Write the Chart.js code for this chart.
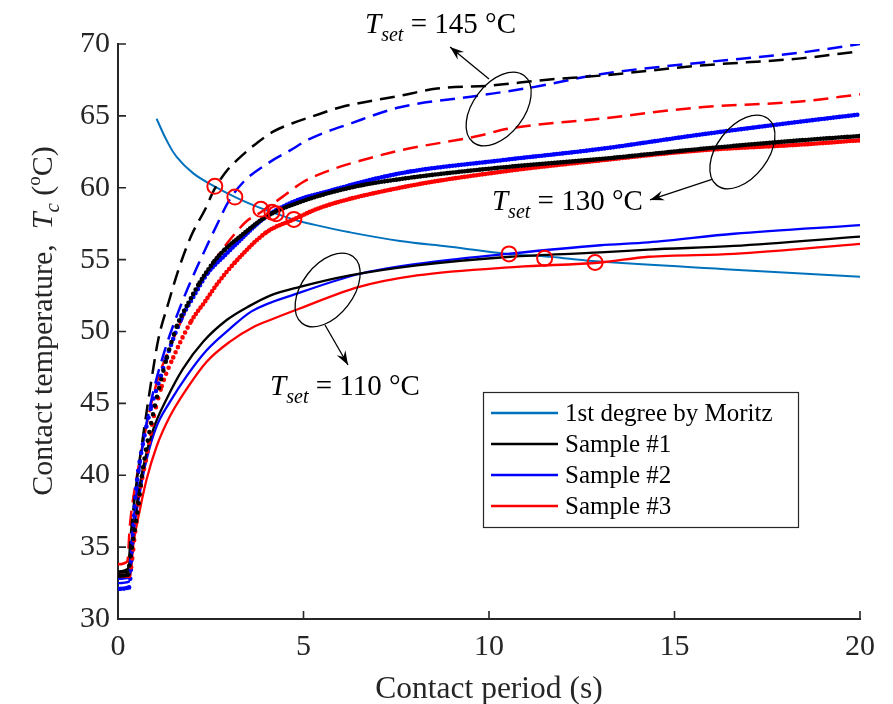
<!DOCTYPE html>
<html><head><meta charset="utf-8">
<script src="https://cdn.jsdelivr.net/npm/chart.js@4.4.1/dist/chart.umd.min.js"></script>
<style>html,body{margin:0;padding:0;background:#fff;}</style>
</head><body>
<canvas id="c" width="893" height="704"></canvas>
<script>
// ---- data (x: contact period s, y: contact temperature °C) ----
const xTickValues = [0, 5, 10, 15, 20];
const yTickValues = [30, 35, 40, 45, 50, 55, 60, 65, 70];

const legendLabels = ['1st degree by Moritz', 'Sample #1', 'Sample #2', 'Sample #3'];

// Tset = 145 °C (dashed)
const t145_s1 = [[0,33.3],[0.27,33.5],[0.35,36.0],[0.5,39.5],[0.68,42.8],[0.9,46.6],[1.09,49.5],[1.36,52.0],[1.63,54.3],[1.98,56.7],[2.35,58.5],[2.6,59.9],[2.97,61.3],[3.2,61.9],[3.64,62.9],[4.18,63.9],[4.82,64.6],[5.17,64.9],[6.0,65.6],[7.6,66.4],[8.6,66.9],[10,67.1],[11.5,67.5],[13,67.8],[15.7,68.5],[18.4,69.0],[20,69.5]];
const t145_s2 = [[0,32.8],[0.3,32.9],[0.36,35.0],[0.5,38.8],[0.68,42.3],[0.95,45.8],[1.25,48.6],[1.63,51.4],[1.98,53.6],[2.35,55.7],[2.7,57.6],[2.97,59.0],[3.38,60.4],[4.1,61.8],[4.64,62.6],[5.17,63.4],[6.3,64.5],[7.6,65.6],[9.7,66.4],[11.2,67.0],[13,67.9],[15.7,68.7],[18.4,69.4],[20,70.0]];
const t145_s3 = [[0,33.8],[0.25,34.0],[0.32,36.5],[0.5,39.8],[0.73,43.0],[1.05,46.5],[1.35,48.6],[1.63,50.3],[1.98,52.3],[2.35,53.9],[2.7,55.3],[3.15,56.8],[3.48,57.7],[3.85,58.3],[4.45,59.4],[4.99,60.4],[5.8,61.3],[6.7,62.0],[7.6,62.6],[9.7,63.6],[10.5,64.1],[13,64.8],[15.7,65.6],[18.4,66.0],[20,66.5]];

// Tset = 130 °C (dotted)
const t130_s1 = [[0,33.0],[0.28,33.1],[0.32,34.0],[0.55,37.9],[0.64,39.9],[0.86,43.2],[1.13,46.3],[1.32,48.2],[1.59,50.4],[1.9,52.0],[2.2,53.4],[2.6,54.9],[2.88,55.7],[3.29,56.6],[4.0,58.0],[4.9,59.0],[6.25,60.0],[7.6,60.6],[10.3,61.4],[13,62.0],[15.7,62.7],[18.4,63.3],[20,63.6]];
const t130_s2 = [[0,32.1],[0.3,32.2],[0.41,36.3],[0.5,39.3],[0.68,42.3],[0.9,44.8],[1.13,46.7],[1.31,48.2],[1.71,50.9],[2.03,52.4],[2.43,54.1],[2.88,55.3],[3.15,56.0],[4.0,58.0],[4.9,59.2],[5.44,59.6],[7.6,61.0],[10.3,61.9],[13,62.7],[15.7,63.7],[18.4,64.6],[20,65.1]];
const t130_s3 = [[0,33.0],[0.3,33.0],[0.46,36.0],[0.59,38.8],[0.77,41.3],[0.95,43.9],[1.18,46.2],[1.49,48.2],[1.98,50.75],[2.35,52.1],[2.7,53.4],[3.15,54.8],[4.0,56.9],[4.74,57.8],[5.44,58.6],[7.6,60.0],[10.3,61.1],[13,61.9],[15.7,62.6],[18.4,63.0],[20,63.3]];

// Tset = 110 °C (solid)
const t110_s1 = [[0,33.2],[0.28,33.3],[0.32,34.4],[0.5,37.9],[0.68,40.6],[0.95,43.2],[1.31,45.3],[1.75,47.4],[2.3,49.3],[2.93,50.8],[3.56,51.8],[4.1,52.5],[4.9,53.1],[6.25,53.9],[8.06,54.6],[10.57,55.2],[13,55.5],[14.3,55.7],[16.6,55.95],[20,56.6]];
const t110_s2 = [[0,32.5],[0.3,32.6],[0.41,35.8],[0.59,38.8],[0.77,41.1],[1.04,43.4],[1.4,45.1],[1.85,46.9],[2.39,48.7],[3.02,50.2],[3.6,51.4],[4.9,52.7],[6.5,54.0],[8.06,54.7],[10.5,55.4],[13,56.0],[14.3,56.2],[16.6,56.8],[20,57.4]];
const t110_s3 = [[0,32.9],[0.33,33.0],[0.41,35.1],[0.59,37.6],[0.77,39.7],[1.04,42.0],[1.4,44.1],[1.85,46.0],[2.39,47.9],[3.02,49.3],[3.64,50.3],[4.1,50.8],[4.9,51.6],[6.5,53.1],[8.06,53.9],[10.75,54.5],[13,54.8],[14.3,55.2],[16.6,55.4],[20,56.1]];

// 1st degree model by Moritz
const moritz = [[1.04,64.8],[1.31,63.3],[1.58,62.15],[2.03,61.0],[2.6,60.1],[3.2,59.3],[3.83,58.6],[4.72,57.8],[5.17,57.5],[6.25,56.9],[7.6,56.3],[8.95,55.9],[10.5,55.4],[11.64,55.2],[12.8,54.9],[16.6,54.3],[20,53.8]];

// intersections (red circles)
const crossings = [[2.61,60.1],[3.15,59.35],[3.85,58.5],[4.15,58.3],[4.26,58.2],[4.74,57.8],[10.54,55.4],[11.5,55.1],[12.86,54.8]];

// annotation anchors (data units)
const annoLabels = ['145', '130', '110'];
const annoText = [[6.66,70.75],[10.08,58.45],[4.1,45.6]];
const annoEllipse = [[10.26,65.48],[16.83,62.49],[5.65,52.89]];
const annoArrow = [[[10.0,67.57],[8.95,69.79]],[[16.01,60.59],[14.34,59.15]],[[5.58,50.45],[6.2,47.67]]];

// ---- styling ----
const FF = "'Liberation Serif','Times New Roman',serif";
const AX = '#262626';
const BLACK = '#000000', BLUE = '#0000ff', RED = '#ff0000', MBLUE = '#0072bd';
const toXY = a => a.map(p => ({x: p[0], y: p[1]}));

function dashedSet(d, c) {
  return {data: toXY(d), borderColor: c, borderWidth: 2.5, borderDash: [15, 8], pointRadius: 0,
    cubicInterpolationMode: 'monotone', fill: false, order: 5};
}
function solidSet(d, c) {
  return {data: toXY(d), borderColor: c, borderWidth: 2.3, pointRadius: 0,
    cubicInterpolationMode: 'monotone', fill: false, order: 5};
}
function dottedSet(d, c) {
  return {data: toXY(d), borderColor: c, borderWidth: 4.6, borderCapStyle: 'round', pointRadius: 0,
    cubicInterpolationMode: 'monotone', fill: false, order: 4,
    segment: {borderDash: s => {
      const dx = s.p1.x - s.p0.x, dy = s.p1.y - s.p0.y;
      const k = Math.abs(dy / (Math.abs(dx) < 1e-6 ? 1e-6 : dx));
      const g = Math.max(3, Math.min(9, 2.4 * Math.sqrt(1 + k * k)));
      return [0, Math.round(g * 2) / 2];
    }}};
}

function drawRich(ctx, parts, x, y, align) {
  let w = 0;
  parts.forEach(p => { ctx.font = (p.it ? 'italic ' : '') + p.sz + 'px ' + FF; p.w = ctx.measureText(p.t).width; w += p.w; });
  let cx = align === 'center' ? x - w / 2 : x;
  parts.forEach(p => { ctx.font = (p.it ? 'italic ' : '') + p.sz + 'px ' + FF; ctx.fillText(p.t, cx, y + (p.dy || 0)); cx += p.w; });
}
function arrow(ctx, x1, y1, x2, y2) {
  ctx.beginPath(); ctx.moveTo(x1, y1); ctx.lineTo(x2, y2); ctx.stroke();
  const a = Math.atan2(y2 - y1, x2 - x1), L = 14, W = 5;
  const c = Math.cos(a), s = Math.sin(a);
  ctx.beginPath(); ctx.moveTo(x2, y2);
  ctx.lineTo(x2 - L * c + W * s, y2 - L * s - W * c);
  ctx.lineTo(x2 - 0.65 * L * c, y2 - 0.65 * L * s);
  ctx.lineTo(x2 - L * c - W * s, y2 - L * s + W * c);
  ctx.closePath(); ctx.fill();
}

const decor = {
  id: 'decor',
  afterDraw(chart) {
    const ctx = chart.ctx, xs = chart.scales.x, ys = chart.scales.y, ca = chart.chartArea;
    ctx.save();
    // inward ticks
    ctx.strokeStyle = AX; ctx.lineWidth = 1.6;
    ctx.beginPath();
    yTickValues.forEach(v => { const py = ys.getPixelForValue(v); ctx.moveTo(ca.left, py); ctx.lineTo(ca.left + 8, py); });
    xTickValues.forEach(v => { const px = xs.getPixelForValue(v); ctx.moveTo(px, ca.bottom); ctx.lineTo(px, ca.bottom - 8); });
    ctx.stroke();

    // axis titles
    ctx.fillStyle = AX; ctx.textBaseline = 'alphabetic';
    drawRich(ctx, [{t: 'Contact period (s)', sz: 31.5}], (ca.left + ca.right) / 2, 698, 'center');
    ctx.save();
    ctx.translate(52, 321); ctx.rotate(-Math.PI / 2);
    drawRich(ctx, [{t: 'Contact temperature,  ', sz: 30}, {t: 'T', sz: 30, it: true}, {t: 'c', sz: 21, it: true, dy: 7},
      {t: ' (', sz: 30}, {t: 'o', sz: 19, dy: -12}, {t: 'C)', sz: 30}], 0, 0, 'center');
    ctx.restore();

    // annotations
    ctx.fillStyle = '#000'; ctx.strokeStyle = '#000'; ctx.lineWidth = 1.3;
    annoEllipse.forEach(e => {
      ctx.beginPath();
      ctx.ellipse(xs.getPixelForValue(e[0]), ys.getPixelForValue(e[1]), 42, 25.5, -0.92, 0, Math.PI * 2);
      ctx.stroke();
    });
    annoArrow.forEach(a => arrow(ctx, xs.getPixelForValue(a[0][0]), ys.getPixelForValue(a[0][1]),
      xs.getPixelForValue(a[1][0]), ys.getPixelForValue(a[1][1])));
    annoText.forEach((p, i) => {
      drawRich(ctx, [{t: 'T', sz: 29, it: true}, {t: 'set', sz: 20, it: true, dy: 8}, {t: ' = ' + annoLabels[i] + ' \u00B0C', sz: 29}],
        xs.getPixelForValue(p[0]), ys.getPixelForValue(p[1]), 'left');
    });

    // legend
    const lx = 483, ly = 392, lw = 315, lh = 135;
    ctx.fillStyle = '#fff'; ctx.fillRect(lx, ly, lw, lh);
    ctx.strokeStyle = AX; ctx.lineWidth = 1.2; ctx.strokeRect(lx + 0.5, ly + 0.5, lw, lh);
    const cols = [MBLUE, BLACK, BLUE, RED];
    const rows = [413, 444, 475, 506];
    ctx.textBaseline = 'middle'; ctx.font = '25px ' + FF;
    legendLabels.forEach((lab, i) => {
      ctx.strokeStyle = cols[i]; ctx.lineWidth = 2.3;
      ctx.beginPath(); ctx.moveTo(491, rows[i]); ctx.lineTo(558, rows[i]); ctx.stroke();
      ctx.fillStyle = '#000'; ctx.fillText(lab, 565, rows[i] + 1);
    });
    ctx.restore();
  }
};

new Chart(document.getElementById('c'), {
  type: 'line',
  data: {
    datasets: [
      {data: toXY(crossings), showLine: false, pointRadius: 7.5, pointStyle: 'circle', pointBorderColor: RED,
        pointBackgroundColor: 'rgba(0,0,0,0)', pointBorderWidth: 2, borderColor: RED, order: 0},
      dottedSet(t130_s1, BLACK), dottedSet(t130_s3, RED), dottedSet(t130_s2, BLUE),
      dashedSet(t145_s1, BLACK), dashedSet(t145_s2, BLUE), dashedSet(t145_s3, RED),
      solidSet(t110_s1, BLACK), solidSet(t110_s2, BLUE), solidSet(t110_s3, RED),
      {data: toXY(moritz), borderColor: MBLUE, borderWidth: 2, pointRadius: 0, tension: 0.4, fill: false, order: 8}
    ]
  },
  options: {
    responsive: false, animation: false, devicePixelRatio: 1,
    layout: {padding: {left: 0, top: 44, right: 33, bottom: 0}},
    plugins: {legend: {display: false}, tooltip: {enabled: false}},
    scales: {
      x: {type: 'linear', min: 0, max: 20,
        afterBuildTicks: s => { s.ticks = xTickValues.map(v => ({value: v})); },
        afterFit: s => { s.height = 85; },
        grid: {display: false, drawTicks: false},
        border: {display: true, color: AX, width: 2},
        ticks: {font: {family: FF, size: 30}, color: AX, padding: 10, maxRotation: 0}
      },
      y: {type: 'linear', min: 30, max: 70,
        afterBuildTicks: s => { s.ticks = yTickValues.map(v => ({value: v})); },
        afterFit: s => { s.width = 118; },
        grid: {display: false, drawTicks: false},
        border: {display: true, color: AX, width: 2},
        ticks: {font: {family: FF, size: 30}, color: AX, padding: 8}
      }
    }
  }
  ,
  plugins: [decor]
});
</script>
</body></html>
